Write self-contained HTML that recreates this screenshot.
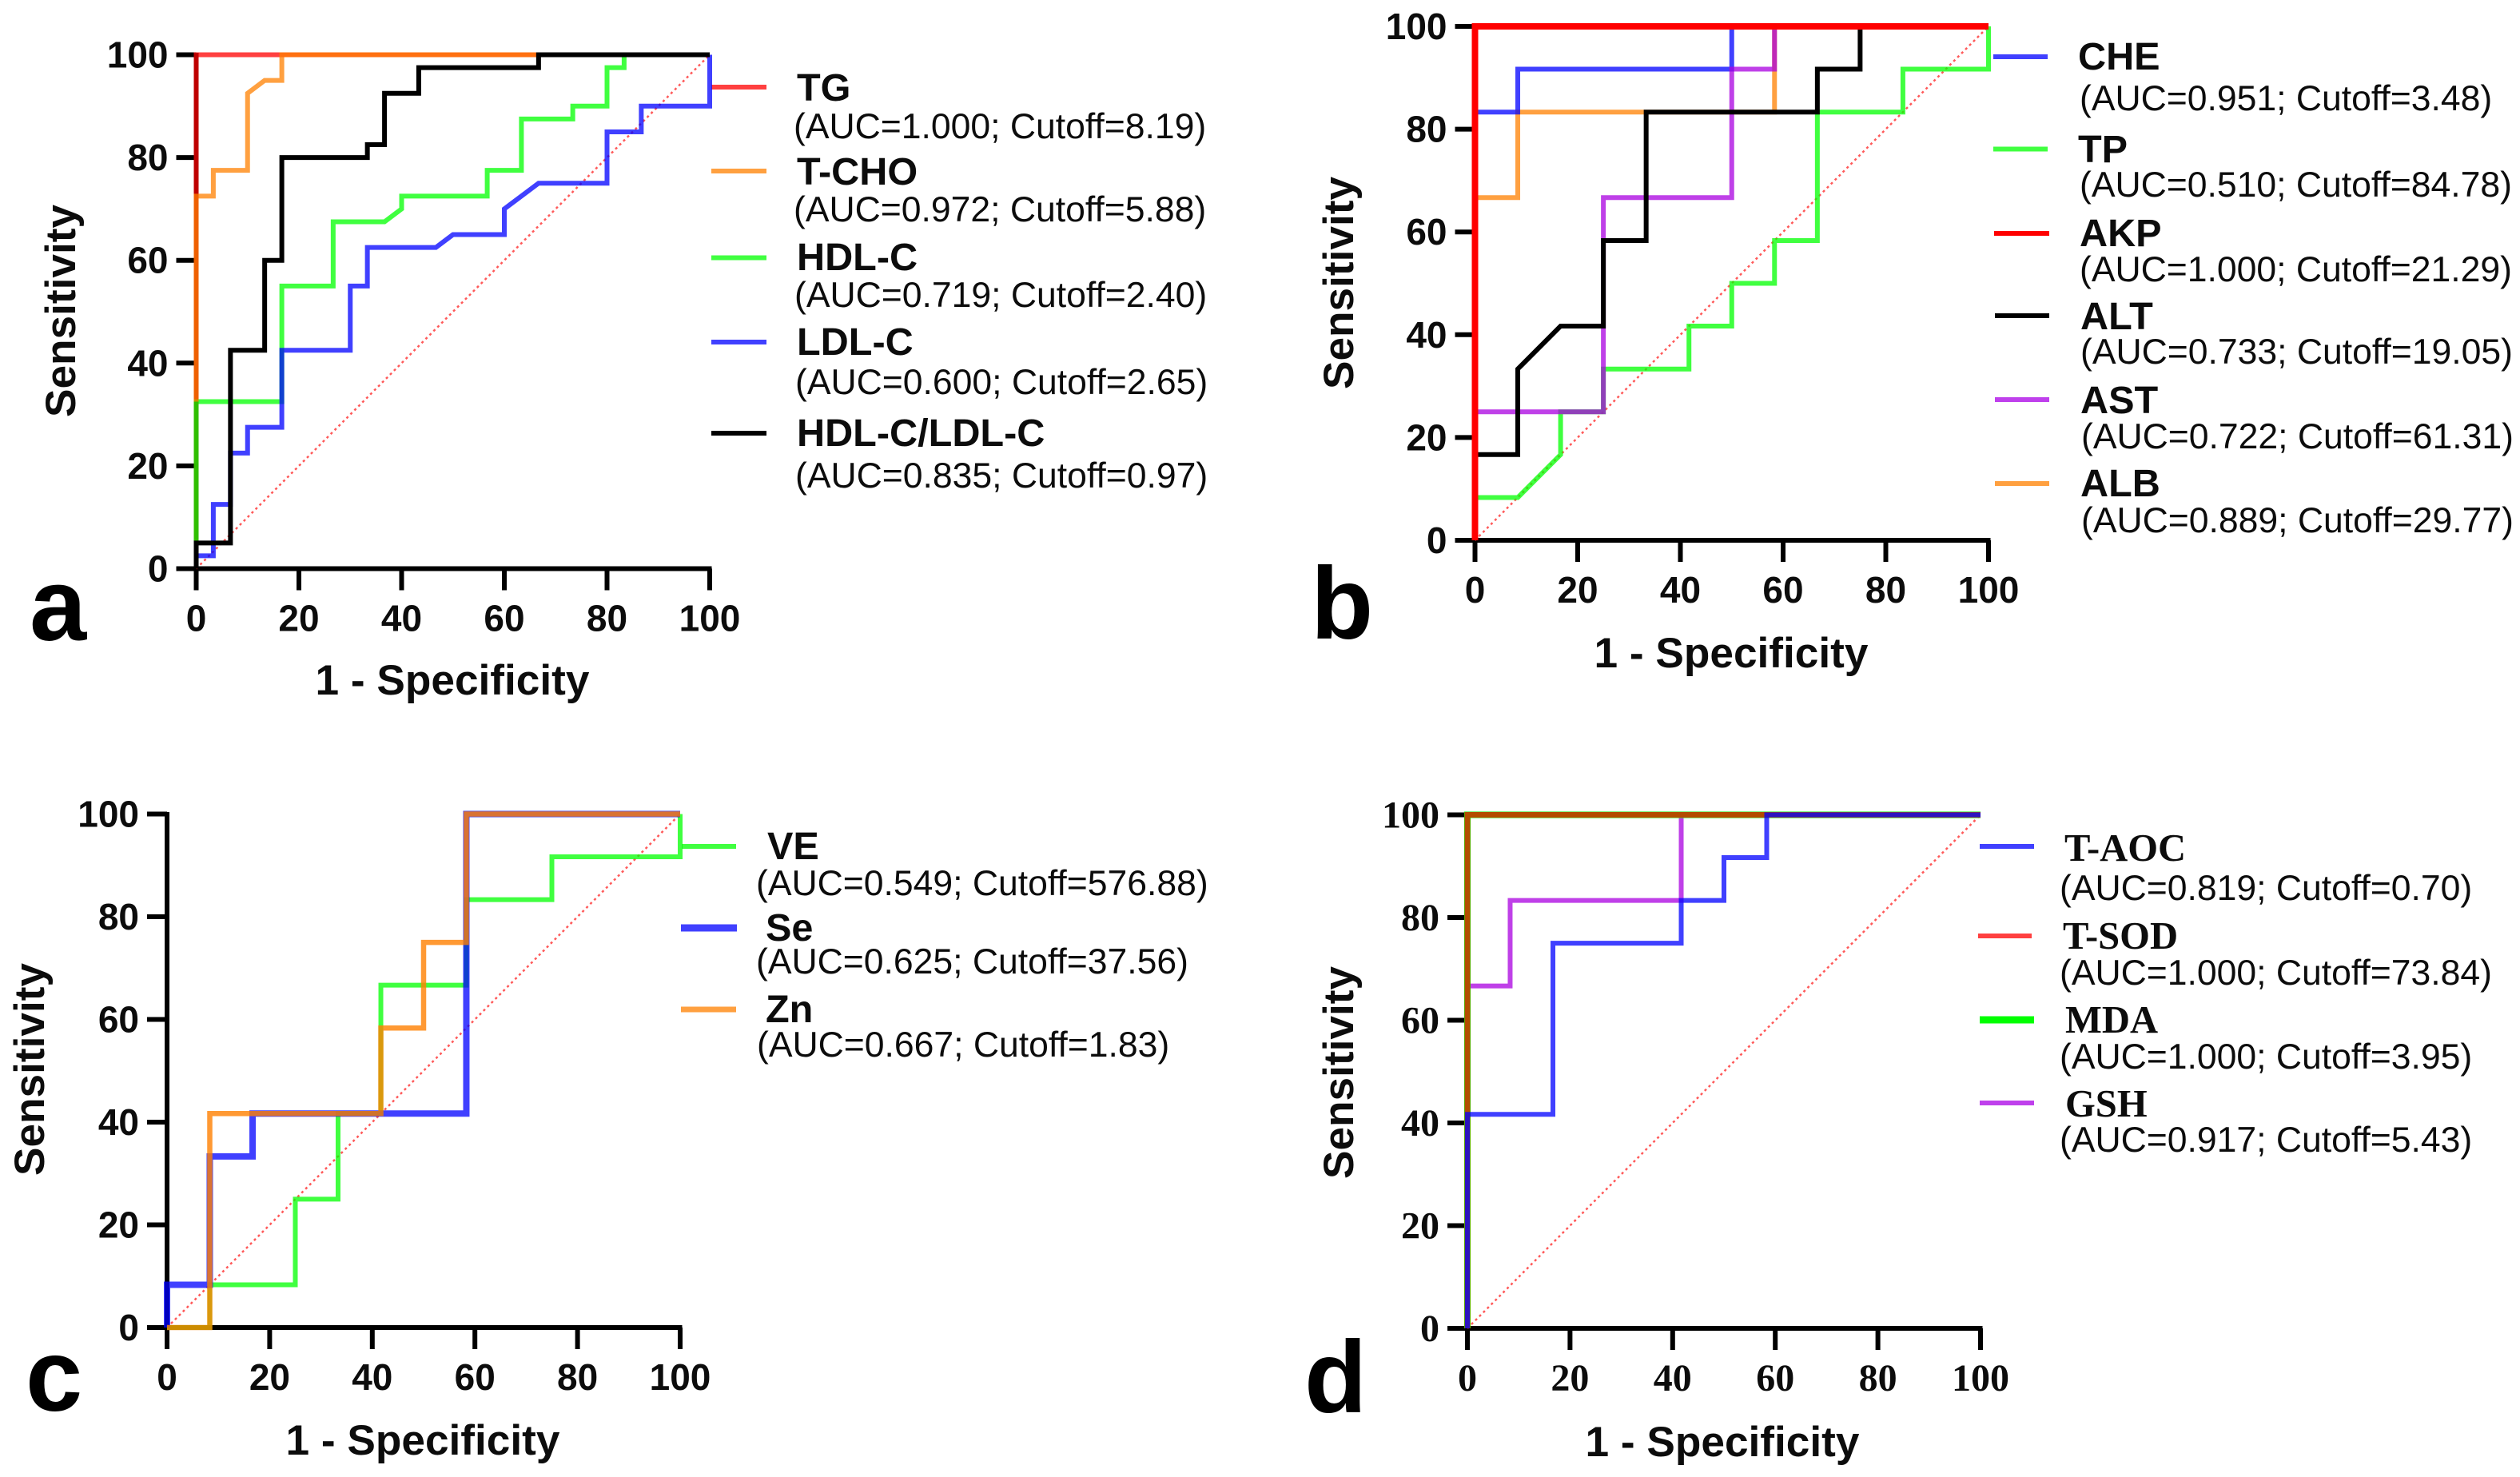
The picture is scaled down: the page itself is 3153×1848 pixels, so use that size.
<!DOCTYPE html>
<html lang="en">
<head>
<meta charset="utf-8">
<title>ROC curves</title>
<style>
html,body{margin:0;padding:0;background:#fff;}
#chart{display:block;}
text{fill:#0c0c0c;}
.s{font-family:"Liberation Sans",sans-serif;}
.r{font-family:"Liberation Serif",serif;}
.name{font-weight:bold;font-size:48.6px;}
.auc{font-family:"Liberation Sans",sans-serif;font-size:44.5px;}
.title{font-family:"Liberation Sans",sans-serif;font-weight:bold;font-size:53.2px;text-anchor:middle;}
.letter{font-family:"Liberation Sans",sans-serif;font-weight:bold;font-size:128px;fill:#000;}
</style>
</head>
<body>
<svg id="chart" xmlns="http://www.w3.org/2000/svg" width="3153" height="1848" viewBox="0 0 3153 1848">
<rect width="3153" height="1848" fill="#fff"/>

<g id="panel-a">
  <text class="letter" x="37" y="801">a</text>
  <text class="title" x="566" y="869">1 - Specificity</text>
  <text class="title" transform="translate(94,389) rotate(-90)">Sensitivity</text>
  <line x1="890" x2="959" y1="109" y2="109" stroke="#ff4040" stroke-width="6"/>
  <text class="s name" x="997" y="126">TG</text>
  <text class="auc" x="993" y="173">(AUC=1.000; Cutoff=8.19)</text>
  <line x1="890" x2="959" y1="214" y2="214" stroke="#ffa040" stroke-width="6"/>
  <text class="s name" x="997" y="231">T-CHO</text>
  <text class="auc" x="993" y="277">(AUC=0.972; Cutoff=5.88)</text>
  <line x1="890" x2="959" y1="322.5" y2="322.5" stroke="#40ff40" stroke-width="6"/>
  <text class="s name" x="997" y="338">HDL-C</text>
  <text class="auc" x="994" y="384">(AUC=0.719; Cutoff=2.40)</text>
  <line x1="890" x2="959" y1="428" y2="428" stroke="#4040ff" stroke-width="6"/>
  <text class="s name" x="997" y="444">LDL-C</text>
  <text class="auc" x="995" y="493">(AUC=0.600; Cutoff=2.65)</text>
  <line x1="890" x2="959" y1="542" y2="542" stroke="#000" stroke-width="6"/>
  <text class="s name" x="997" y="558">HDL-C/LDL-C</text>
  <text class="auc" x="995" y="610">(AUC=0.835; Cutoff=0.97)</text>
</g>

<g id="panel-b">
  <text class="letter" x="1640" y="799">b</text>
  <text class="title" x="2166" y="835">1 - Specificity</text>
  <text class="title" transform="translate(1693,354) rotate(-90)">Sensitivity</text>
  <line x1="2494" x2="2562" y1="71" y2="71" stroke="#4040ff" stroke-width="6"/>
  <text class="s name" x="2600" y="87">CHE</text>
  <text class="auc" x="2602" y="138">(AUC=0.951; Cutoff=3.48)</text>
  <line x1="2494" x2="2562" y1="186.5" y2="186.5" stroke="#40ff40" stroke-width="6"/>
  <text class="s name" x="2600" y="203">TP</text>
  <text class="auc" x="2602" y="246">(AUC=0.510; Cutoff=84.78)</text>
  <line x1="2495" x2="2564" y1="292" y2="292" stroke="#ff0000" stroke-width="6"/>
  <text class="s name" x="2602" y="308">AKP</text>
  <text class="auc" x="2602" y="352">(AUC=1.000; Cutoff=21.29)</text>
  <line x1="2496" x2="2564" y1="395" y2="395" stroke="#000" stroke-width="6"/>
  <text class="s name" x="2603" y="412">ALT</text>
  <text class="auc" x="2603" y="455">(AUC=0.733; Cutoff=19.05)</text>
  <line x1="2496" x2="2564" y1="500" y2="500" stroke="#bf40ec" stroke-width="6"/>
  <text class="s name" x="2603" y="517">AST</text>
  <text class="auc" x="2604" y="561">(AUC=0.722; Cutoff=61.31)</text>
  <line x1="2496" x2="2564" y1="605" y2="605" stroke="#ffa040" stroke-width="6"/>
  <text class="s name" x="2603" y="621">ALB</text>
  <text class="auc" x="2604" y="666">(AUC=0.889; Cutoff=29.77)</text>
</g>

<g id="panel-c">
  <text class="letter" x="32" y="1765">c</text>
  <text class="title" x="529" y="1820">1 - Specificity</text>
  <text class="title" transform="translate(55,1338) rotate(-90)">Sensitivity</text>
  <line x1="853" x2="921" y1="1059" y2="1059" stroke="#40ff40" stroke-width="6"/>
  <text class="s name" x="960" y="1075">VE</text>
  <text class="auc" x="946" y="1120">(AUC=0.549; Cutoff=576.88)</text>
  <line x1="852" x2="922" y1="1161" y2="1161" stroke="#4040ff" stroke-width="9"/>
  <text class="s name" x="958" y="1177">Se</text>
  <text class="auc" x="946" y="1218">(AUC=0.625; Cutoff=37.56)</text>
  <line x1="852" x2="921" y1="1263" y2="1263" stroke="#ffa040" stroke-width="7"/>
  <text class="s name" x="958" y="1279">Zn</text>
  <text class="auc" x="947" y="1322">(AUC=0.667; Cutoff=1.83)</text>
</g>

<g id="panel-d">
  <text class="letter" x="1632" y="1767">d</text>
  <text class="title" x="2155" y="1822">1 - Specificity</text>
  <text class="title" transform="translate(1693,1342) rotate(-90)">Sensitivity</text>
  <line x1="2477" x2="2545" y1="1059" y2="1059" stroke="#4040ff" stroke-width="6"/>
  <text class="r name" x="2583" y="1077">T-AOC</text>
  <text class="auc" x="2577" y="1126">(AUC=0.819; Cutoff=0.70)</text>
  <line x1="2475" x2="2542" y1="1171" y2="1171" stroke="#ff4040" stroke-width="6"/>
  <text class="r name" x="2581" y="1187">T-SOD</text>
  <text class="auc" x="2577" y="1232">(AUC=1.000; Cutoff=73.84)</text>
  <line x1="2477" x2="2545" y1="1276" y2="1276" stroke="#00ff00" stroke-width="9"/>
  <text class="r name" x="2584" y="1292">MDA</text>
  <text class="auc" x="2577" y="1337">(AUC=1.000; Cutoff=3.95)</text>
  <line x1="2477" x2="2545" y1="1380" y2="1380" stroke="#bf40ec" stroke-width="6"/>
  <text class="r name" x="2584" y="1397">GSH</text>
  <text class="auc" x="2577" y="1441">(AUC=0.917; Cutoff=5.43)</text>
</g>
</svg>

<script>
// Tick values shared by all axes
const tickLabels = [0, 20, 40, 60, 80, 100];

// Panel a
const tgX = [0, 0, 100];
const tgY = [0, 100, 100];
const hdlX = [0, 0, 16.67, 16.67, 26.67, 26.67, 36.67, 40, 40, 56.67, 56.67, 63.33, 63.33, 73.33, 73.33, 80, 80, 83.33, 83.33, 100];
const hdlY = [0, 32.5, 32.5, 55, 55, 67.5, 67.5, 70, 72.5, 72.5, 77.5, 77.5, 87.5, 87.5, 90, 90, 97.5, 97.5, 100, 100];
const tchoX = [0, 0, 3.33, 3.33, 10, 10, 13.33, 16.67, 16.67, 100];
const tchoY = [32.5, 72.5, 72.5, 77.5, 77.5, 92.5, 95, 95, 100, 100];
const ldlX = [0, 0, 3.33, 3.33, 6.67, 6.67, 10, 10, 16.67, 16.67, 30, 30, 33.33, 33.33, 46.67, 50, 60, 60, 66.67, 80, 80, 86.67, 86.67, 100, 100];
const ldlY = [0, 2.5, 2.5, 12.5, 12.5, 22.5, 22.5, 27.5, 27.5, 42.5, 42.5, 55, 55, 62.5, 62.5, 65, 65, 70, 75, 75, 85, 85, 90, 90, 100];
const ratioX = [0, 0, 6.67, 6.67, 13.33, 13.33, 16.67, 16.67, 33.33, 33.33, 36.67, 36.67, 43.33, 43.33, 66.67, 66.67, 100];
const ratioY = [0, 5, 5, 42.5, 42.5, 60, 60, 80, 80, 82.5, 82.5, 92.5, 92.5, 97.5, 97.5, 100, 100];

// Panel b
const albX = [0, 0, 8.33, 8.33, 58.33, 58.33, 100];
const albY = [0, 66.67, 66.67, 83.33, 83.33, 100, 100];
const tpX = [0, 0, 8.33, 16.67, 16.67, 25, 25, 41.67, 41.67, 50, 50, 58.33, 58.33, 66.67, 66.67, 83.33, 83.33, 100, 100];
const tpY = [0, 8.33, 8.33, 16.67, 25, 25, 33.33, 33.33, 41.67, 41.67, 50, 50, 58.33, 58.33, 83.33, 83.33, 91.67, 91.67, 100];
const cheX = [0, 0, 8.33, 8.33, 50, 50, 100];
const cheY = [0, 83.33, 83.33, 91.67, 91.67, 100, 100];
const astX = [0, 0, 25, 25, 50, 50, 58.33, 58.33, 100];
const astY = [0, 25, 25, 66.67, 66.67, 91.67, 91.67, 100, 100];
const altX = [0, 0, 8.33, 8.33, 16.67, 25, 25, 33.33, 33.33, 66.67, 66.67, 75, 75, 100];
const altY = [0, 16.67, 16.67, 33.33, 41.67, 41.67, 58.33, 58.33, 83.33, 83.33, 91.67, 91.67, 100, 100];
const akpX = [0, 0, 100];
const akpY = [0, 100, 100];

// Panel c
const veX = [0, 8.33, 8.33, 25, 25, 33.33, 33.33, 41.67, 41.67, 58.33, 58.33, 75, 75, 100, 100];
const veY = [0, 0, 8.33, 8.33, 25, 25, 41.67, 41.67, 66.67, 66.67, 83.33, 83.33, 91.67, 91.67, 100];
const seX = [0, 0, 8.33, 8.33, 16.67, 16.67, 58.33, 58.33, 100];
const seY = [0, 8.33, 8.33, 33.33, 33.33, 41.67, 41.67, 100, 100];
const znX = [0, 8.33, 8.33, 41.67, 41.67, 50, 50, 58.33, 58.33, 100];
const znY = [0, 0, 41.67, 41.67, 58.33, 58.33, 75, 75, 100, 100];

// Panel d
const gshX = [0, 0, 8.33, 8.33, 41.67, 41.67, 100];
const gshY = [0, 66.67, 66.67, 83.33, 83.33, 100, 100];
const mdaX = [0, 0, 100];
const mdaY = [0, 100, 100];
const sodX = [0, 0, 100];
const sodY = [0, 100, 100];
const aocX = [0, 0, 16.67, 16.67, 41.67, 41.67, 50, 50, 58.33, 58.33, 100];
const aocY = [0, 41.67, 41.67, 75, 75, 83.33, 83.33, 91.67, 91.67, 100, 100];

const SVG_NS = 'http://www.w3.org/2000/svg';

function drawLine(group, name, xs, ys, sx, sy, color, width, opacity) {
  const el = document.createElementNS(SVG_NS, 'polyline');
  
  
  el.setAttribute('points', xs.map(function (x, i) { return sx(x) + ',' + sy(ys[i]); }).join(' '));
  el.setAttribute('fill', 'none');
  el.setAttribute('stroke', color);
  el.setAttribute('stroke-width', width);
  el.setAttribute('stroke-opacity', opacity);
  el.setAttribute('stroke-linejoin', 'miter');
  group.appendChild(el);
}

function drawAxes(id, x0, x100, y0, y100, serif) {
  const group = document.getElementById(id);
  const sx = function (v) { return x0 + (x100 - x0) * v / 100; };
  const sy = function (v) { return y0 + (y100 - y0) * v / 100; };
  const family = serif ? '"Liberation Serif",serif' : '"Liberation Sans",sans-serif';
  const size = serif ? 48 : 46;

  const xAxis = document.createElementNS(SVG_NS, 'line');
  
  
  xAxis.setAttribute('x1', x0 - 2.5);
  xAxis.setAttribute('x2', x100 + 2.5);
  xAxis.setAttribute('y1', y0);
  xAxis.setAttribute('y2', y0);
  xAxis.setAttribute('stroke', '#000');
  xAxis.setAttribute('stroke-width', 6);
  group.appendChild(xAxis);

  const yAxis = document.createElementNS(SVG_NS, 'line');
  
  
  yAxis.setAttribute('x1', x0);
  yAxis.setAttribute('x2', x0);
  yAxis.setAttribute('y1', y0 + 2.5);
  yAxis.setAttribute('y2', y100 - 2.5);
  yAxis.setAttribute('stroke', '#000');
  yAxis.setAttribute('stroke-width', 6);
  group.appendChild(yAxis);

  tickLabels.forEach(function (t) {
    const xt = document.createElementNS(SVG_NS, 'line');
    
    
    xt.setAttribute('x1', sx(t));
    xt.setAttribute('x2', sx(t));
    xt.setAttribute('y1', y0);
    xt.setAttribute('y2', y0 + 27);
    xt.setAttribute('stroke', '#000');
    xt.setAttribute('stroke-width', 6);
    group.appendChild(xt);

    const yt = document.createElementNS(SVG_NS, 'line');
    
    
    yt.setAttribute('x1', x0 - 25);
    yt.setAttribute('x2', x0);
    yt.setAttribute('y1', sy(t));
    yt.setAttribute('y2', sy(t));
    yt.setAttribute('stroke', '#000');
    yt.setAttribute('stroke-width', 6);
    group.appendChild(yt);

    const xl = document.createElementNS(SVG_NS, 'text');
    
    
    xl.setAttribute('x', sx(t));
    xl.setAttribute('y', y0 + 78);
    xl.setAttribute('text-anchor', 'middle');
    xl.setAttribute('font-weight', 'bold');
    xl.setAttribute('font-size', size);
    xl.setAttribute('font-family', family);
    xl.textContent = t;
    group.appendChild(xl);

    const yl = document.createElementNS(SVG_NS, 'text');
    
    
    yl.setAttribute('x', x0 - 35);
    yl.setAttribute('y', sy(t) + 16);
    yl.setAttribute('text-anchor', 'end');
    yl.setAttribute('font-weight', 'bold');
    yl.setAttribute('font-size', size);
    yl.setAttribute('font-family', family);
    yl.textContent = t;
    group.appendChild(yl);
  });

  const diag = document.createElementNS(SVG_NS, 'line');
  
  
  diag.setAttribute('x1', sx(0));
  diag.setAttribute('y1', sy(0));
  diag.setAttribute('x2', sx(100));
  diag.setAttribute('y2', sy(100));
  diag.setAttribute('stroke', '#ff3030');
  diag.setAttribute('stroke-width', 2.5);
  diag.setAttribute('stroke-dasharray', '3 4');
  diag.setAttribute('stroke-opacity', 0.8);
  group.appendChild(diag);

  return { group: group, sx: sx, sy: sy };
}

const a = drawAxes('panel-a', 245.5, 888, 711.5, 68.5, false);
drawLine(a.group, 'curve-tg', tgX, tgY, a.sx, a.sy, '#ff0000', 6, 0.75);
drawLine(a.group, 'curve-hdl-c', hdlX, hdlY, a.sx, a.sy, '#00ff00', 6, 0.75);
drawLine(a.group, 'curve-t-cho', tchoX, tchoY, a.sx, a.sy, '#ff8000', 6, 0.75);
drawLine(a.group, 'curve-ldl-c', ldlX, ldlY, a.sx, a.sy, '#0000ff', 6, 0.75);
drawLine(a.group, 'curve-hdl-ldl', ratioX, ratioY, a.sx, a.sy, '#000000', 6, 1);

const b = drawAxes('panel-b', 1845.5, 2488, 676, 33, false);
drawLine(b.group, 'curve-alb', albX, albY, b.sx, b.sy, '#ff8000', 6, 0.75);
drawLine(b.group, 'curve-tp', tpX, tpY, b.sx, b.sy, '#00ff00', 6, 0.75);
drawLine(b.group, 'curve-che', cheX, cheY, b.sx, b.sy, '#0000ff', 6, 0.75);
drawLine(b.group, 'curve-ast', astX, astY, b.sx, b.sy, '#aa00e0', 6, 0.75);
drawLine(b.group, 'curve-alt', altX, altY, b.sx, b.sy, '#000000', 6, 1);
drawLine(b.group, 'curve-akp', akpX, akpY, b.sx, b.sy, '#ff0000', 8, 1);

const c = drawAxes('panel-c', 209, 851, 1661, 1018.5, false);
drawLine(c.group, 'curve-ve', veX, veY, c.sx, c.sy, '#00ff00', 6, 0.75);
drawLine(c.group, 'curve-se', seX, seY, c.sx, c.sy, '#0000ff', 8, 0.75);
drawLine(c.group, 'curve-zn', znX, znY, c.sx, c.sy, '#ff8000', 6.5, 0.8);

const d = drawAxes('panel-d', 1836, 2478, 1662, 1019.5, true);
drawLine(d.group, 'curve-gsh', gshX, gshY, d.sx, d.sy, '#aa00e0', 6, 0.75);
drawLine(d.group, 'curve-mda', mdaX, mdaY, d.sx, d.sy, '#00ff00', 8, 1);
drawLine(d.group, 'curve-t-sod', sodX, sodY, d.sx, d.sy, '#ff0000', 7, 0.7);
drawLine(d.group, 'curve-t-aoc', aocX, aocY, d.sx, d.sy, '#0000ff', 6, 0.75);
</script>
</body>
</html>
